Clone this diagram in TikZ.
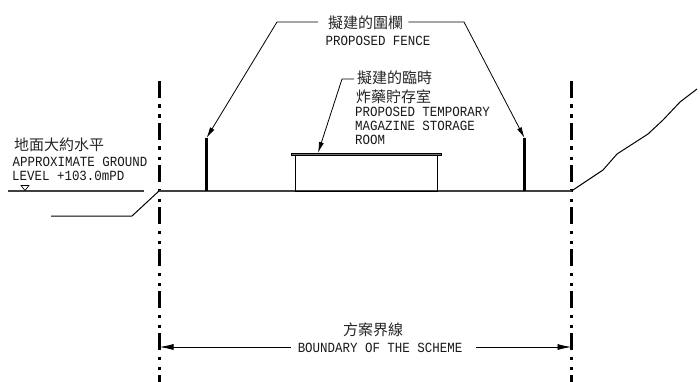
\documentclass[tikz,border=0pt]{standalone}
\usepackage{fontspec}
\setmainfont[FakeStretch=0.89]{Liberation Mono}
\newfontfamily\cjk{Noto Sans CJK TC}
\usetikzlibrary{arrows.meta}
\tikzset{
  en/.style={font=\fontsize{14}{14}\selectfont,anchor=west,inner sep=0pt,text=black!90},
  zh/.style={font=\fontsize{15}{15}\cjk,anchor=west,inner sep=0pt,text=black!85},
  leader/.style={line width=0.8pt,-{Latex[length=11pt,width=5pt]}},
  dimline/.style={line width=0.9pt,-{Latex[length=14pt,width=6pt]}},
  ground/.style={line width=1.2pt,draw=black!75},
  terrain/.style={line width=1pt},
  fencepost/.style={line width=3.4pt},
  boundary/.style={line width=3pt,dash pattern=on 17pt off 6.5pt on 3.5pt off 6.5pt on 3.5pt off 5pt}
}
\begin{document}
\begin{tikzpicture}[x=1pt,y=-1pt]
\useasboundingbox (0,0) rectangle (700,382);
\fill[white] (0,0) rectangle (700,382);
% boundary lines
\coordinate (bl0) at (159,81); \coordinate (bl1) at (159,382);
\coordinate (br0) at (571.5,81); \coordinate (br1) at (571.5,382);
\draw[boundary] (bl0) -- (bl1);
\draw[boundary] (br0) -- (br1);
% ground
\coordinate (ga) at (159,191); \coordinate (gb) at (571.5,191);
\draw[ground] (ga) -- (gb);
\coordinate (ul0) at (8,191); \coordinate (ul1) at (144,191);
\draw[ground] (ul0) -- (ul1);
\draw[line width=0.7pt] (21,185.5) -- (29,185.5) -- (25,190.5) -- cycle;
\coordinate (ll0) at (51,216); \coordinate (ll1) at (132,216);
\draw[terrain] (ll0) -- (ll1) -- (ga);
\draw[terrain] (gb) -- (603,170) -- (617,154) -- (648,134) -- (663,120) -- (680,102) -- (697,89);
% fences
\coordinate (fl0) at (206.5,138); \coordinate (fl1) at (206.5,191);
\coordinate (fr0) at (524.5,138); \coordinate (fr1) at (524.5,191);
\draw[fencepost] (fl0) -- (fl1);
\draw[fencepost] (fr0) -- (fr1);
% storage room
\draw[line width=0.8pt] (295,155) rectangle (437,191);
\draw[line width=0.6pt,fill=black!55] (291,153.2) rectangle (441,155.4);
\coordinate (roof) at (318,153);
% texts
\node[zh] (t1) at (328,23) {擬建的圍欄};
\node[en] (t2) at (325.5,41) {PROPOSED FENCE};
\node[zh] (t3) at (357,78) {擬建的臨時};
\node[zh] (t4) at (356,97) {炸藥貯存室};
\node[en] (t5) at (355,112) {PROPOSED TEMPORARY};
\node[en] (t6) at (355,126) {MAGAZINE STORAGE};
\node[en] (t7) at (355,140) {ROOM};
\node[zh] (t8) at (14,145) {地面大約水平};
\node[en] (t9) at (12.5,162) {APPROXIMATE GROUND};
\node[en] (t10) at (12,176) {LEVEL +103.0mPD};
\node[zh,anchor=center] (t11) at (373,330) {方案界線};
\node[en,anchor=center] (t12) at (380,348) {BOUNDARY OF THE SCHEME};
% leaders
\draw[leader] (t1.west) ++(-10,-1) -- (277,22) -- (fl0);
\draw[leader] (t1.east) ++(5,-1) -- (464,22) -- (fr0);
\draw[leader] (t3.west) ++(-3,1) -- (342,79) -- (roof);
% dimension
\draw[dimline] (t12.west) ++(-7,-1) -- (159.5,347);
\draw[dimline] (t12.east) ++(14,-1) -- (571.5,347);
\end{tikzpicture}
\end{document}
